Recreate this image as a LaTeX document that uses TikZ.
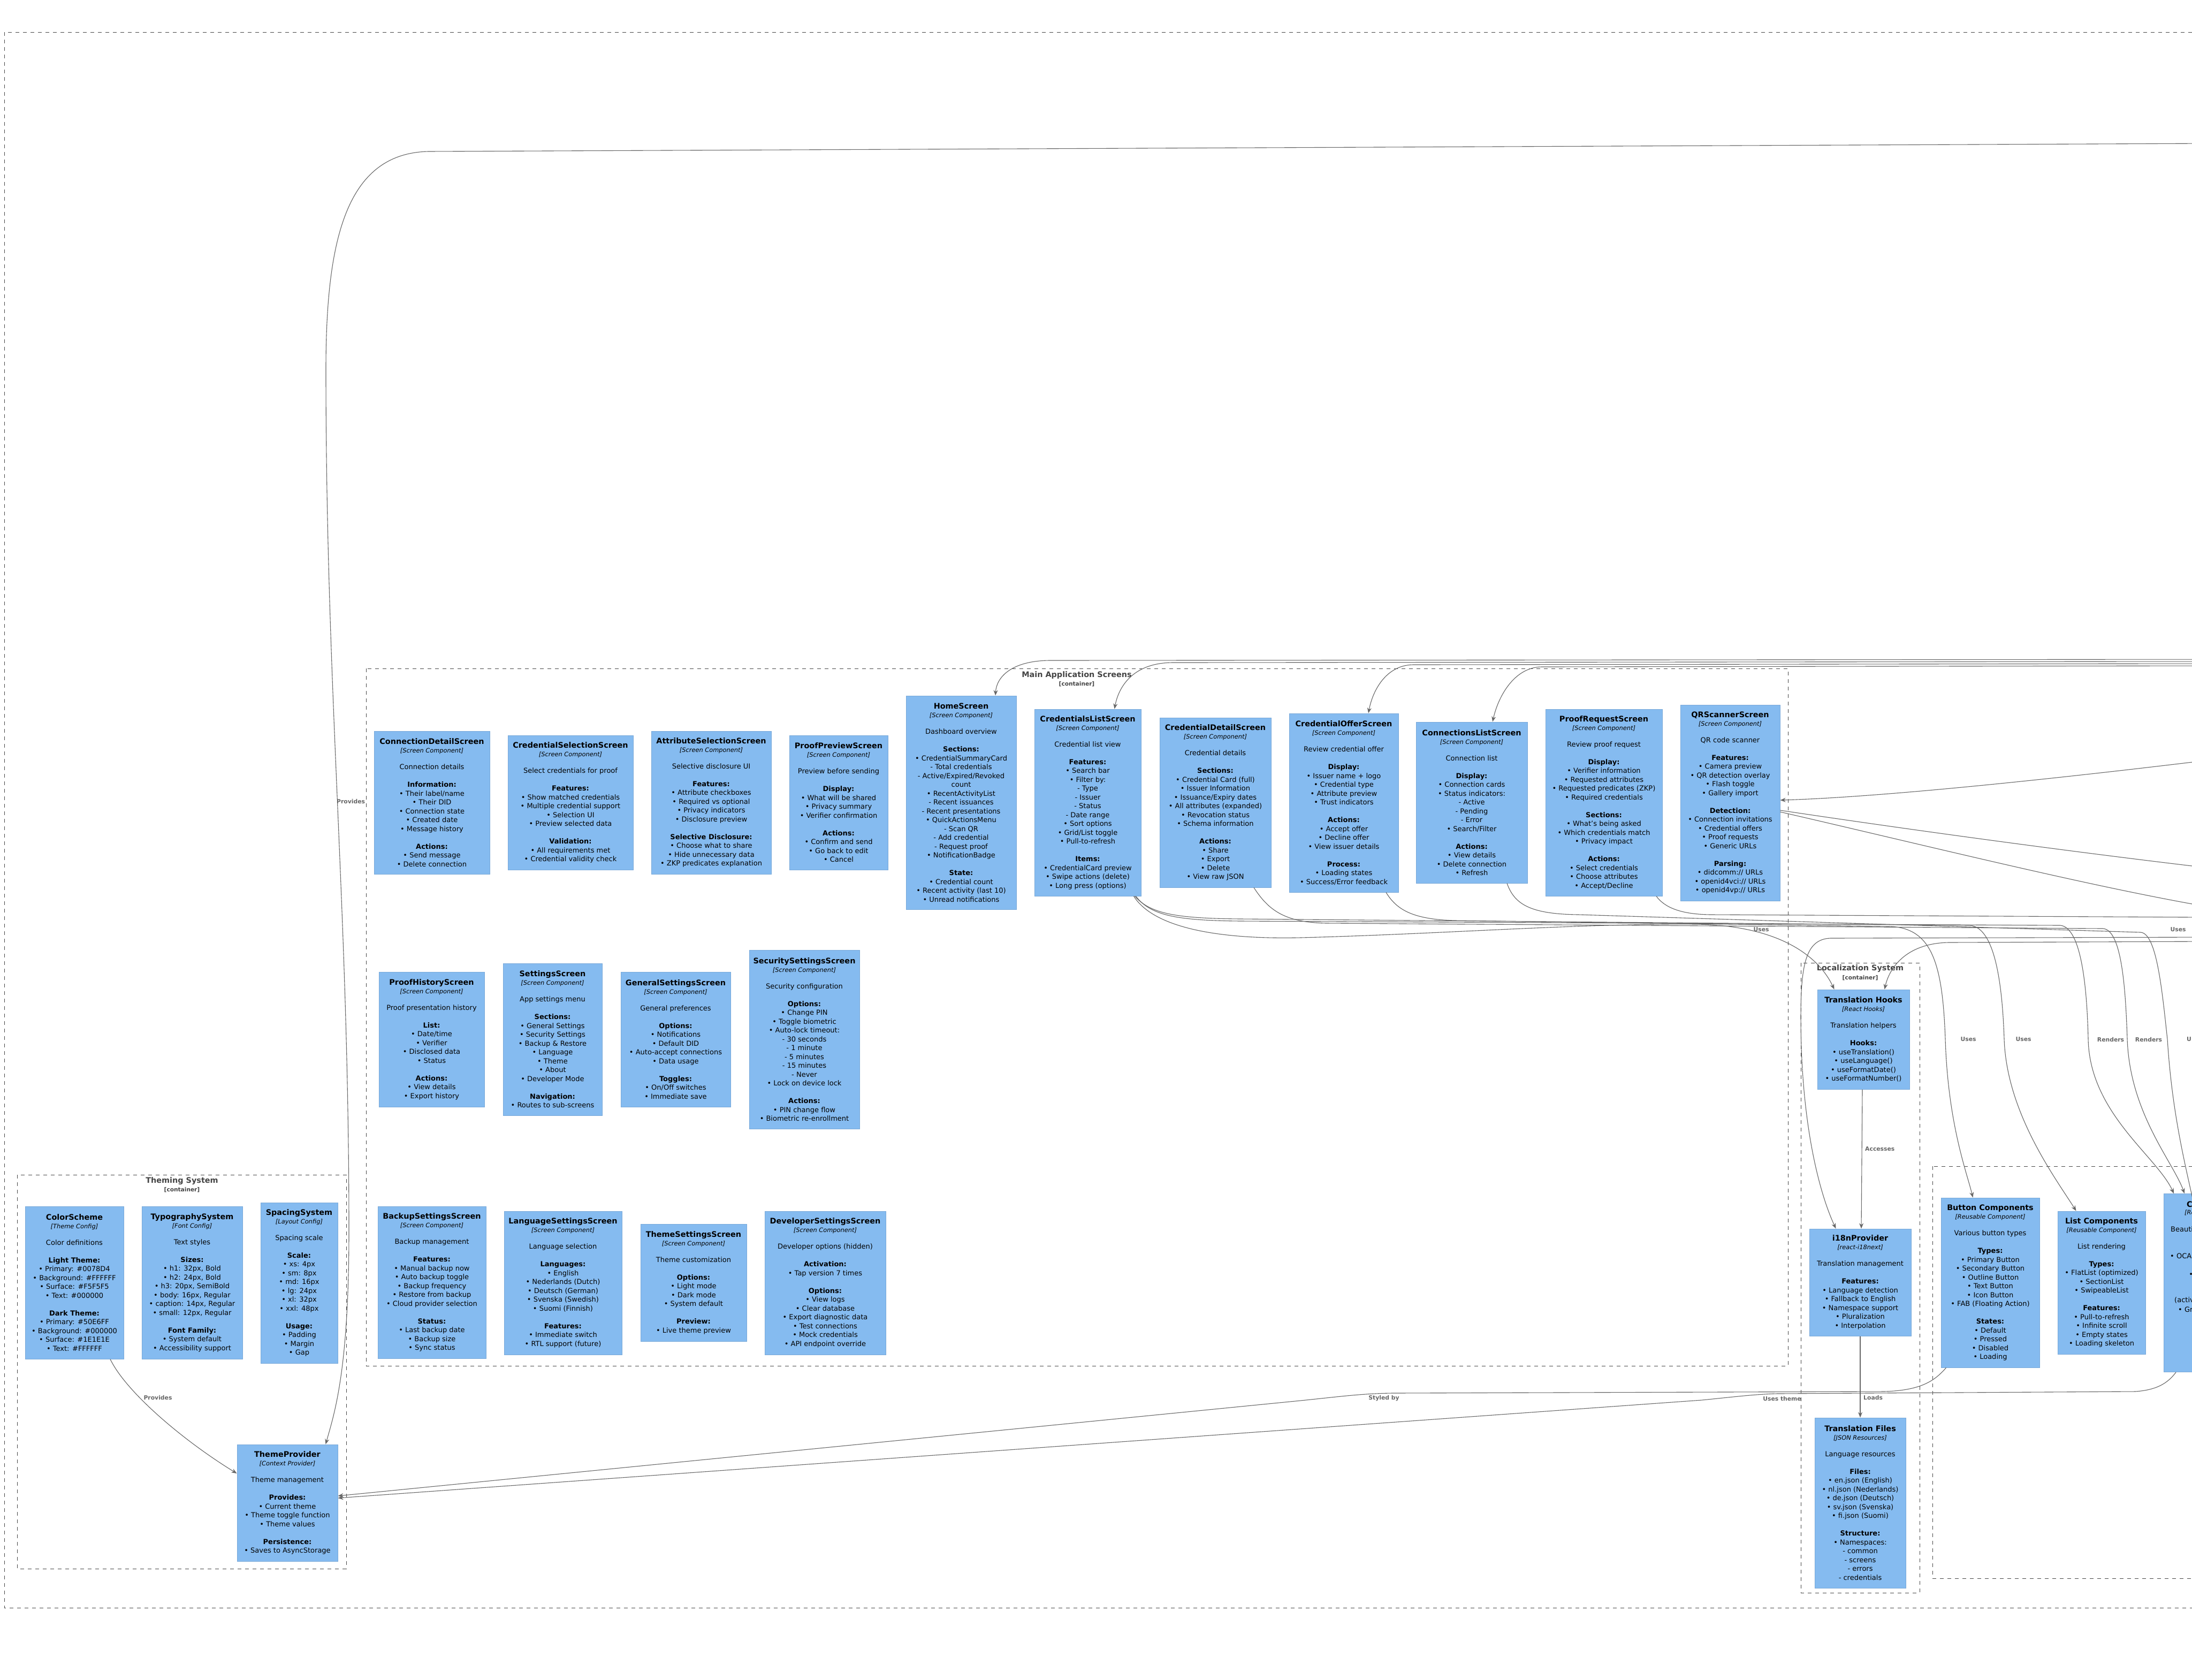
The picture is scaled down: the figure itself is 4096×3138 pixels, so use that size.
\documentclass[tikz,border=0pt]{standalone}
\usepackage{fontspec}
\setmainfont{DejaVu Sans}
\usetikzlibrary{arrows.meta,calc}
\definecolor{compfill}{HTML}{85BBF0}
\definecolor{compline}{HTML}{78A8D8}
\definecolor{bnd}{HTML}{444444}
\definecolor{relc}{HTML}{666666}
\newcommand\card[3]{{\fontsize{14.4}{16}\selectfont\bfseries #1}\\[-0.5pt]{\fontsize{11.4}{14}\selectfont\itshape [#2]}\\[14.5pt]#3}
\newcommand\bl{\\[16.5pt]}
\tikzset{
  comp/.style={draw=compline, fill=compfill, line width=1pt, inner sep=0pt, align=center, text=black, font=\fontsize{13}{16.5}\selectfont},
  bound/.style={draw=bnd, line width=1pt, dash pattern=on 7pt off 7pt},
  btitle/.style={text=bnd, font=\fontsize{14.4}{16}\selectfont\bfseries, inner sep=0pt},
  bsub/.style={text=bnd, font=\fontsize{10.6}{12}\selectfont\bfseries, inner sep=0pt},
  rel/.style={draw=relc, line width=1.1pt, -{Stealth[length=10pt,width=8pt]}},
  rlab/.style={text=relc, font=\fontsize{10.8}{12}\selectfont\bfseries, inner sep=1pt},
  frag/.style={anchor=west, inner sep=0pt, text=black, font=\fontsize{13}{16.5}\selectfont},
}
\begin{document}
\begin{tikzpicture}[x=1pt,y=-1pt]
\useasboundingbox (0,0) rectangle (4096,3138);
\fill[white] (0,0) rectangle (4096,3138);
\clip (0,0) rectangle (4096,3138);

% ---------- boundaries ----------
\draw[bound] (8,60) rectangle (4400,3004);
\draw[bound] (684,1249) rectangle (3341,2552);
\node[btitle] (mainT) at (2012,1262) {Main Application Screens};
\node[bsub] (mainS) at (2012,1278) {[container]};
\draw[bound] (32,2195) rectangle (647,2931);
\node[btitle] (themT) at (340,2207) {Theming System};
\node[bsub] (themS) at (340,2223) {[container]};
\draw[bound] (3365,1799) rectangle (3587,2976);
\node[btitle] (locT) at (3476,1810) {Localization System};
\node[bsub] (locS) at (3476,1827) {[container]};
\draw[bound] (3611,2179) rectangle (4400,2949);

% ---------- row 1 ----------
\node[comp, minimum width=216, minimum height=267] (conndet) at (807,1499.5) {\card{ConnectionDetailScreen}{Screen Component}{Connection details\bl
\textbf{Information:}\\• Their label/name\\• Their DID\\• Connection state\\• Created date\\• Message history\bl
\textbf{Actions:}\\• Send message\\• Delete connection}};

\node[comp, minimum width=234, minimum height=251] (credsel) at (1066,1499.5) {\card{CredentialSelectionScreen}{Screen Component}{Select credentials for proof\bl
\textbf{Features:}\\• Show matched credentials\\• Multiple credential support\\• Selection UI\\• Preview selected data\bl
\textbf{Validation:}\\• All requirements met\\• Credential validity check}};

\node[comp, minimum width=224, minimum height=267] (attrsel) at (1329,1499.5) {\card{AttributeSelectionScreen}{Screen Component}{Selective disclosure UI\bl
\textbf{Features:}\\• Attribute checkboxes\\• Required vs optional\\• Privacy indicators\\• Disclosure preview\bl
\textbf{Selective Disclosure:}\\• Choose what to share\\• Hide unnecessary data\\• ZKP predicates explanation}};

\node[comp, minimum width=184, minimum height=251] (proofprev) at (1567,1499.5) {\card{ProofPreviewScreen}{Screen Component}{Preview before sending\bl
\textbf{Display:}\\• What will be shared\\• Privacy summary\\• Verifier confirmation\bl
\textbf{Actions:}\\• Confirm and send\\• Go back to edit\\• Cancel}};

\node[comp, minimum width=206, minimum height=399] (home) at (1796,1499.5) {\card{HomeScreen}{Screen Component}{Dashboard overview\bl
\textbf{Sections:}\\• CredentialSummaryCard\\- Total credentials\\- Active/Expired/Revoked\\count\\• RecentActivityList\\- Recent issuances\\- Recent presentations\\• QuickActionsMenu\\- Scan QR\\- Add credential\\- Request proof\\• NotificationBadge\bl
\textbf{State:}\\• Credential count\\• Recent activity (last 10)\\• Unread notifications}};

\node[comp, minimum width=199, minimum height=349] (credlist) at (2032.5,1499.5) {\card{CredentialsListScreen}{Screen Component}{Credential list view\bl
\textbf{Features:}\\• Search bar\\• Filter by:\\- Type\\- Issuer\\- Status\\- Date range\\• Sort options\\• Grid/List toggle\\• Pull-to-refresh\bl
\textbf{Items:}\\• CredentialCard preview\\• Swipe actions (delete)\\• Long press (options)}};

\node[comp, minimum width=208, minimum height=317] (creddet) at (2271,1499.5) {\card{CredentialDetailScreen}{Screen Component}{Credential details\bl
\textbf{Sections:}\\• Credential Card (full)\\• Issuer Information\\• Issuance/Expiry dates\\• All attributes (expanded)\\• Revocation status\\• Schema information\bl
\textbf{Actions:}\\• Share\\• Export\\• Delete\\• View raw JSON}};

\node[comp, minimum width=204, minimum height=334] (credoffer) at (2511,1500) {\card{CredentialOfferScreen}{Screen Component}{Review credential offer\bl
\textbf{Display:}\\• Issuer name + logo\\• Credential type\\• Attribute preview\\• Trust indicators\bl
\textbf{Actions:}\\• Accept offer\\• Decline offer\\• View issuer details\bl
\textbf{Process:}\\• Loading states\\• Success/Error feedback}};

\node[comp, minimum width=208, minimum height=301] (connlist) at (2750,1499.5) {\card{ConnectionsListScreen}{Screen Component}{Connection list\bl
\textbf{Display:}\\• Connection cards\\• Status indicators:\\- Active\\- Pending\\- Error\\• Search/Filter\bl
\textbf{Actions:}\\• View details\\• Delete connection\\• Refresh}};

\node[comp, minimum width=218, minimum height=349] (proofreq) at (2997,1499.5) {\card{ProofRequestScreen}{Screen Component}{Review proof request\bl
\textbf{Display:}\\• Verifier information\\• Requested attributes\\• Requested predicates (ZKP)\\• Required credentials\bl
\textbf{Sections:}\\• What's being asked\\• Which credentials match\\• Privacy impact\bl
\textbf{Actions:}\\• Select credentials\\• Choose attributes\\• Accept/Decline}};

\node[comp, minimum width=186, minimum height=366] (qrscan) at (3233,1500) {\card{QRScannerScreen}{Screen Component}{QR code scanner\bl
\textbf{Features:}\\• Camera preview\\• QR detection overlay\\• Flash toggle\\• Gallery import\bl
\textbf{Detection:}\\• Connection invitations\\• Credential offers\\• Proof requests\\• Generic URLs\bl
\textbf{Parsing:}\\• didcomm:// URLs\\• openid4vci:// URLs\\• openid4vp:// URLs}};

% ---------- row 2 ----------
\node[comp, minimum width=197, minimum height=252] (proofhist) at (806.5,1942) {\card{ProofHistoryScreen}{Screen Component}{Proof presentation history\bl
\textbf{List:}\\• Date/time\\• Verifier\\• Disclosed data\\• Status\bl
\textbf{Actions:}\\• View details\\• Export history}};

\node[comp, minimum width=185, minimum height=284] (settings) at (1032.5,1942) {\card{SettingsScreen}{Screen Component}{App settings menu\bl
\textbf{Sections:}\\• General Settings\\• Security Settings\\• Backup \& Restore\\• Language\\• Theme\\• About\\• Developer Mode\bl
\textbf{Navigation:}\\• Routes to sub-screens}};

\node[comp, minimum width=205, minimum height=252] (gensettings) at (1262.5,1942) {\card{GeneralSettingsScreen}{Screen Component}{General preferences\bl
\textbf{Options:}\\• Notifications\\• Default DID\\• Auto-accept connections\\• Data usage\bl
\textbf{Toggles:}\\• On/Off switches\\• Immediate save}};

\node[comp, minimum width=206, minimum height=334] (secsettings) at (1503,1942) {\card{SecuritySettingsScreen}{Screen Component}{Security configuration\bl
\textbf{Options:}\\• Change PIN\\• Toggle biometric\\• Auto-lock timeout:\\- 30 seconds\\- 1 minute\\- 5 minutes\\- 15 minutes\\- Never\\• Lock on device lock\bl
\textbf{Actions:}\\• PIN change flow\\• Biometric re-enrollment}};

% ---------- row 3 ----------
\node[comp, minimum width=202, minimum height=284] (backup) at (807,2396) {\card{BackupSettingsScreen}{Screen Component}{Backup management\bl
\textbf{Features:}\\• Manual backup now\\• Auto backup toggle\\• Backup frequency\\• Restore from backup\\• Cloud provider selection\bl
\textbf{Status:}\\• Last backup date\\• Backup size\\• Sync status}};

\node[comp, minimum width=220, minimum height=268] (language) at (1052,2397) {\card{LanguageSettingsScreen}{Screen Component}{Language selection\bl
\textbf{Languages:}\\• English\\• Nederlands (Dutch)\\• Deutsch (German)\\• Svenska (Swedish)\\• Suomi (Finnish)\bl
\textbf{Features:}\\• Immediate switch\\• RTL support (future)}};

\node[comp, minimum width=198, minimum height=219] (themesettings) at (1296,2396.5) {\card{ThemeSettingsScreen}{Screen Component}{Theme customization\bl
\textbf{Options:}\\• Light mode\\• Dark mode\\• System default\bl
\textbf{Preview:}\\• Live theme preview}};

\node[comp, minimum width=226, minimum height=268] (devsettings) at (1542,2397) {\card{DeveloperSettingsScreen}{Screen Component}{Developer options (hidden)\bl
\textbf{Activation:}\\• Tap version 7 times\bl
\textbf{Options:}\\• View logs\\• Clear database\\• Export diagnostic data\\• Test connections\\• Mock credentials\\• API endpoint override}};

% ---------- theming ----------
\node[comp, minimum width=184, minimum height=285] (colorscheme) at (139,2396.5) {\card{ColorScheme}{Theme Config}{Color definitions\bl
\textbf{Light Theme:}\\• Primary: \#0078D4\\• Background: \#FFFFFF\\• Surface: \#F5F5F5\\• Text: \#000000\bl
\textbf{Dark Theme:}\\• Primary: \#50E6FF\\• Background: \#000000\\• Surface: \#1E1E1E\\• Text: \#FFFFFF}};

\node[comp, minimum width=188, minimum height=285] (typo) at (359,2396.5) {\card{TypographySystem}{Font Config}{Text styles\bl
\textbf{Sizes:}\\• h1: 32px, Bold\\• h2: 24px, Bold\\• h3: 20px, SemiBold\\• body: 16px, Regular\\• caption: 14px, Regular\\• small: 12px, Regular\bl
\textbf{Font Family:}\\• System default\\• Accessibility support}};

\node[comp, minimum width=144, minimum height=300] (spacing) at (559,2397) {\card{SpacingSystem}{Layout Config}{Spacing scale\bl
\textbf{Scale:}\\• xs: 4px\\• sm: 8px\\• md: 16px\\• lg: 24px\\• xl: 32px\\• xxl: 48px\bl
\textbf{Usage:}\\• Padding\\• Margin\\• Gap}};

\node[comp, minimum width=188, minimum height=218] (themeprov) at (537,2808) {\card{ThemeProvider}{Context Provider}{Theme management\bl
\textbf{Provides:}\\• Current theme\\• Theme toggle function\\• Theme values\bl
\textbf{Persistence:}\\• Saves to AsyncStorage}};

% ---------- localization ----------
\node[comp, minimum width=172, minimum height=186] (trhooks) at (3482,1942) {\card{Translation Hooks}{React Hooks}{Translation helpers\bl
\textbf{Hooks:}\\• useTranslation()\\• useLanguage()\\• useFormatDate()\\• useFormatNumber()}};

\node[comp, minimum width=190, minimum height=200] (i18n) at (3476,2396) {\card{i18nProvider}{react-i18next}{Translation management\bl
\textbf{Features:}\\• Language detection\\• Fallback to English\\• Namespace support\\• Pluralization\\• Interpolation}};

\node[comp, minimum width=170, minimum height=318] (trfiles) at (3476,2808) {\card{Translation Files}{JSON Resources}{Language resources\bl
\textbf{Files:}\\• en.json (English)\\• nl.json (Nederlands)\\• de.json (Deutsch)\\• sv.json (Svenska)\\• fi.json (Suomi)\bl
\textbf{Structure:}\\• Namespaces:\\- common\\- screens\\- errors\\- credentials}};

% ---------- reusable components ----------
\node[comp, minimum width=184, minimum height=317] (button) at (3719,2396.5) {\card{Button Components}{Reusable Component}{Various button types\bl
\textbf{Types:}\\• Primary Button\\• Secondary Button\\• Outline Button\\• Text Button\\• Icon Button\\• FAB (Floating Action)\bl
\textbf{States:}\\• Default\\• Pressed\\• Disabled\\• Loading}};

\node[comp, minimum width=164, minimum height=267] (list) at (3927,2396.5) {\card{List Components}{Reusable Component}{List rendering\bl
\textbf{Types:}\\• FlatList (optimized)\\• SectionList\\• SwipeableList\bl
\textbf{Features:}\\• Pull-to-refresh\\• Infinite scroll\\• Empty states\\• Loading skeleton}};

\node[comp, minimum width=300, minimum height=333, anchor=north west] (cardc) at (4043,2230) {};
\node[frag, font=\fontsize{14.4}{16}\selectfont\bfseries] (cf1) at (4086,2250) {C};
\node[frag, font=\fontsize{11.4}{14}\selectfont\itshape] (cf2) at (4082,2266) {[Re};
\node[frag] (cf3) at (4056,2297) {Beauti};
\node[frag] (cf4) at (4055,2347) {• OCA};
\node[frag] (cf5) at (4090,2382) {•};
\node[frag] (cf7) at (4063,2429) {(activ};
\node[frag] (cf8) at (4070,2447) {• Gr};

% ---------- off-picture ends ----------
\coordinate (provsrc) at (4130,268);
\coordinate (navA) at (4130,1232);
\coordinate (navB) at (4130,1236);
\coordinate (navC) at (4130,1240);
\coordinate (navD) at (4130,1244);
\coordinate (qin) at (4130,1420);
\coordinate (qout1) at (4130,1622);
\coordinate (qout2) at (4130,1695);
\coordinate (proffA) at (4130,1714);
\coordinate (offTH) at (4130,1759);
\coordinate (offI) at (4130,1751);
\coordinate (cnoff) at (4110,2300);

% ---------- connectors ----------
\draw[rel] (provsrc) -- (800,283) .. controls (650,287) and (609,440) .. (609,690) .. controls (609,1300) and (652,1700) .. (652,2300) .. controls (652,2560) and (625,2640) .. ($(themeprov.north east)+(-23,0)$);
\node[rlab, anchor=west] (lprov1) at (628,1497) {Provides};

\draw[rel] (navA) -- (1960,1234) .. controls (1890,1235) and (1862,1265) .. ($(home.north)+(64,0)$);
\draw[rel] (navB) -- (2190,1238) .. controls (2115,1239) and (2090,1285) .. ($(credlist.north)+(50,0)$);
\draw[rel] (navC) -- (2640,1242) .. controls (2590,1243) and (2565,1290) .. ($(credoffer.north)+(46,0)$);
\draw[rel] (navD) -- (2880,1246) .. controls (2830,1247) and (2800,1300) .. ($(connlist.north)+(39,0)$);

\draw[rel] (qin) .. controls (3800,1460) and (3500,1490) .. ($(qrscan.east)+(0,-5)$);
\draw[rel] ($(qrscan.east)+(0,14)$) .. controls (3600,1555) and (3900,1595) .. (qout1);
\draw[rel] ($(qrscan.east)+(0,17)$) .. controls (3600,1580) and (3900,1655) .. (qout2);

\draw[rel] ($(credlist.south east)+(-14,0)$) .. controls (2160,1740) and (2300,1755) .. (2430,1752) .. controls (2700,1745) and (2950,1725) .. (3172,1727) .. controls (3330,1730) and (3400,1790) .. ($(trhooks.north west)+(32,0)$);
\node[rlab] (lu1) at (3291,1737) {Uses};

\draw[rel] ($(credoffer.south)+(79,0)$) .. controls (2610,1700) and (2640,1718) .. (2720,1720) -- (3530,1731) .. controls (3610,1733) and (3630,1800) .. (3635,1942) .. controls (3640,2100) and (3675,2190) .. ($(button.north west)+(60,0)$);
\node[rlab] (lu2) at (3678,1942) {Uses};

\draw[rel] ($(credlist.south east)+(-12,0)$) .. controls (2150,1708) and (2200,1716) .. (2320,1717) -- (3680,1729) .. controls (3730,1731) and (3742,1850) .. (3745,1942) .. controls (3750,2080) and (3840,2200) .. ($(list.north west)+(35,0)$);
\node[rlab] (lu3) at (3781,1942) {Uses};

\draw[rel] ($(credlist.south east)+(-10,0)$) .. controls (2150,1711) and (2200,1720) .. (2320,1721) -- (3850,1729) .. controls (3890,1733) and (3900,1850) .. (3902,1942) .. controls (3905,2080) and (4030,2160) .. ($(cardc.north west)+(19,0)$);
\node[rlab] (lr1) at (3944,1942) {Renders};

\draw[rel] ($(creddet.south)+(72,0)$) .. controls (2370,1700) and (2400,1724) .. (2480,1725) -- (3930,1735) .. controls (3965,1738) and (3972,1850) .. (3975,1942) .. controls (3980,2080) and (4060,2170) .. ($(cardc.north west)+(39,0)$);
\node[rlab] (lr2) at (4015,1942) {Renders};

\draw[rel] ($(connlist.south)+(66,0)$) .. controls (2830,1690) and (2860,1708) .. (2950,1709) -- (4000,1742) .. controls (4030,1744) and (4040,1850) .. (4050,1942) .. controls (4060,2100) and (4090,2200) .. (cnoff);
\node[rlab, anchor=west] (lu4) at (4085,1942) {U};

\draw[rel] ($(proofreq.south)+(98,0)$) .. controls (3110,1695) and (3140,1709) .. (3200,1709) -- (proffA);
\node[rlab] (lu5) at (4070,1737) {Uses};

\draw[rel] (offTH) -- (3640,1761) .. controls (3560,1763) and (3530,1810) .. ($(trhooks.north east)+(-47,0)$);
\draw[rel] (offI) -- (3420,1753) .. controls (3375,1755) and (3365,1800) .. (3365,1900) .. controls (3365,2100) and (3400,2230) .. ($(i18n.north west)+(50,0)$);

\draw[rel] ($(trhooks.south)+(-2,0)$) -- ($(i18n.north)+(2,0)$);
\node[rlab, anchor=west] (lacc) at (3484,2147) {Accesses};
\draw[rel] (i18n.south) -- (trfiles.north);
\node[rlab, anchor=west] (lload) at (3481,2611) {Loads};

\draw[rel] ($(colorscheme.south)+(67,0)$) .. controls (235,2600) and (340,2690) .. ($(themeprov.west)+(0,-55)$);
\node[rlab] (lprov2) at (295,2611) {Provides};

\draw[rel] ($(button.south west)+(10,0)$) .. controls (3615,2580) and (3590,2598) .. (3520,2600) -- (2600,2603) .. controls (2540,2604) and (2500,2610) .. (2420,2618) -- ($(themeprov.east)+(0,-13)$);
\node[rlab] (lstyled) at (2586,2613) {Styled by};

\draw[rel] ($(cardc.south west)+(23,0)$) .. controls (4050,2585) and (4030,2597) .. (3990,2600) -- (3320,2604) .. controls (3280,2605) and (3240,2610) .. (3180,2616) -- ($(themeprov.east)+(0,-9)$);
\node[rlab] (lusest) at (3330,2613) {Uses theme};
\end{tikzpicture}
\end{document}
